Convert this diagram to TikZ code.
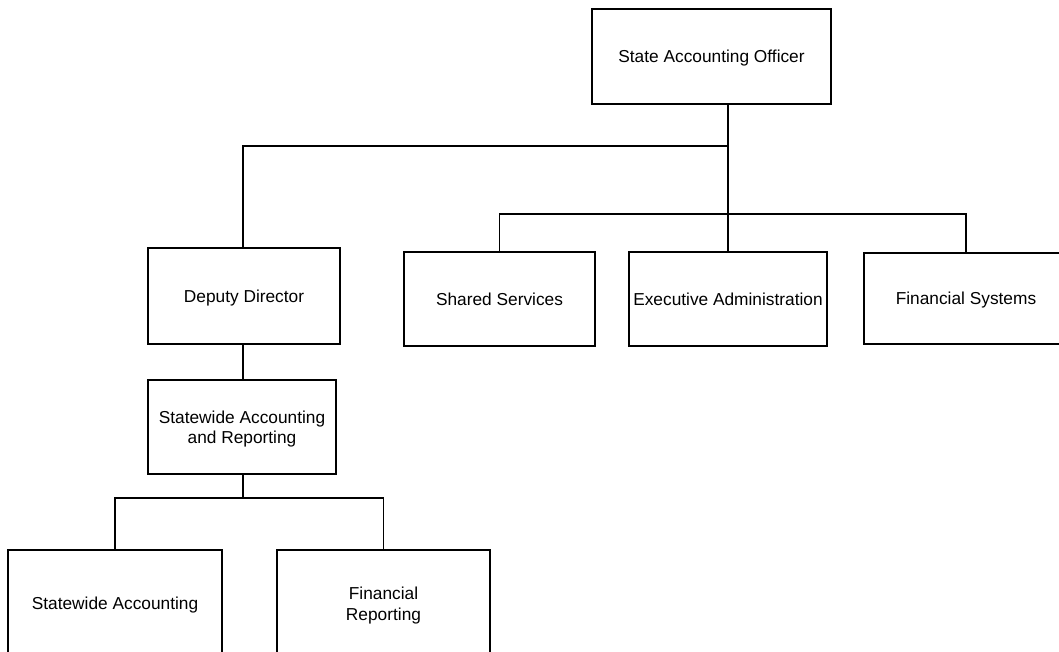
\documentclass[tikz,border=0pt]{standalone}
\usepackage{fontspec}
\setmainfont{Liberation Sans}
\begin{document}
\begin{tikzpicture}[x=1pt,y=-1pt,
  box/.style={draw=black,line width=1.2pt,rectangle,inner sep=0pt,align=center,
    text depth=0pt,font=\fontsize{17.3}{20.5}\selectfont},
  link/.style={draw=black,line width=1.2pt}]
\useasboundingbox (0,0) rectangle (1059,652);
\clip (0,0) rectangle (1059,652);
\node[box,minimum width=239pt,minimum height=95pt] (sao) at (711.5,56.5) {State Accounting Officer};
\node[box,minimum width=192pt,minimum height=96pt] (dep) at (244,296) {Deputy Director};
\node[box,minimum width=191pt,minimum height=94pt] (ss) at (499.5,299) {Shared Services};
\node[box,minimum width=198pt,minimum height=94pt] (ea) at (728,299) {Executive Administration};
\node[box,minimum width=204pt,minimum height=91pt] (fs) at (966,298.5) {Financial Systems};
\node[box,minimum width=188pt,minimum height=94pt] (sar) at (242,427) {Statewide Accounting\\and Reporting};
\node[box,minimum width=214pt,minimum height=107pt] (sa) at (115,603.5) {Statewide Accounting};
\node[box,minimum width=213pt,minimum height=107pt] (fr) at (383.5,603.5) {Financial\\Reporting};
\coordinate (top) at (sao.south -| ea.north);
\coordinate (b1) at (728,146);
\coordinate (b2) at (728,214);
\coordinate (dd) at (243,344);
\coordinate (b3) at (243,498);
\draw[link] (top) -- (ea.north);
\draw[link] (b1) -| (dd |- dep.north);
\draw[link] (b2) -| (ss.north);
\draw[link] (b2) -| (fs.north);
\draw[link] (dd |- dep.south) -- (dd |- sar.north);
\draw[link] (dd |- sar.south) -- (b3);
\draw[link] (b3) -| (sa.north);
\draw[link] (b3) -| (fr.north);
\end{tikzpicture}
\end{document}
